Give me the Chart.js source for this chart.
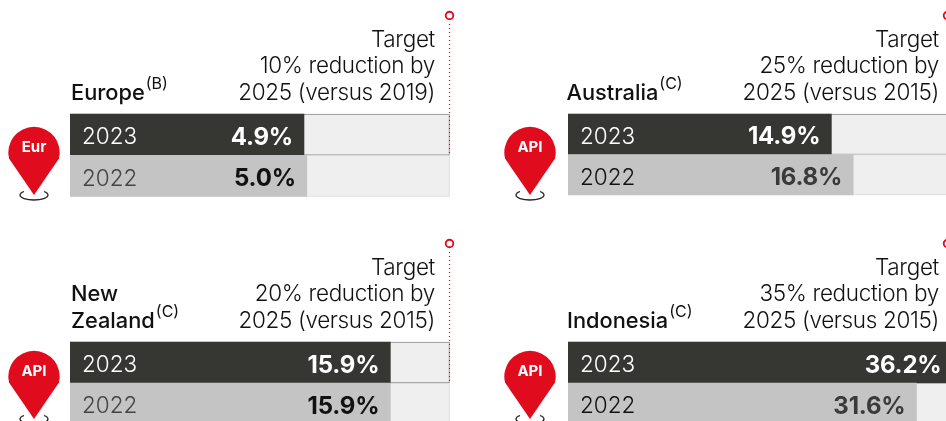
<!DOCTYPE html>
<html><head><meta charset="utf-8">
<script src="https://cdn.jsdelivr.net/npm/chart.js@4"></script>
<style>
html,body{margin:0;padding:0;width:946px;height:421px;overflow:hidden;background:#fff;font-family:Inter,sans-serif;color:#111}
canvas{position:absolute}
.t{position:absolute;font-size:22.5px;font-weight:300;line-height:26.3px;text-align:right;white-space:pre;letter-spacing:-.35px}
.n{position:absolute;font-size:21.8px;font-weight:500;line-height:26.5px;white-space:pre}
.n sup{font-size:16px;font-weight:400;line-height:0;position:relative;top:-2px;vertical-align:super;margin-left:1px}
svg{position:absolute;left:0;top:0}
</style></head><body>
<script>
// ---- data ----
const panelNames   = ['Europe','Australia','New\nZealand','Indonesia'];
const panelNotes   = ['(B)','(C)','(C)','(C)'];
const pinLabels    = ['Eur','API','API','API'];
const years        = ['2023','2022'];
const values2023   = [4.9,14.9,15.9,36.2];
const values2022   = [5.0,16.8,15.9,31.6];
const targetValues = [10,25,20,35];
const targetTexts  = ['Target\n10% reduction by\n2025 (versus 2019)','Target\n25% reduction by\n2025 (versus 2015)','Target\n20% reduction by\n2025 (versus 2015)','Target\n35% reduction by\n2025 (versus 2015)'];
const axisMins     = [-3.3,-8,-6.3,-6.6];

// ---- layout and style ----
const panelLeft = [70,568,70,568];
const panelTop  = [0,0,228,228];
const rowsTop   = [114,114,342,342];
const rowsH     = [82.5,81,82,82];
const textRight = [435,939,435,939];
const nameLeft  = [71,566.5,71,567];
const nameBottom= [105,105,333,333];
const red='#e00b1c', dark='#363632', mid='#c4c4c4', track='#efefef';
const year22Col = ['#444','#111','#444','#111'];
const val22Col  = ['#111','#3a3a3a','#111','#3a3a3a'];
const W=400, areaW=379.5;

function mkDiv(cls,css,html){const d=document.createElement('div');d.className=cls;d.style.cssText=css;d.innerHTML=html;document.body.appendChild(d);return d;}

panelNames.forEach((name,i)=>{
  const c=document.createElement('canvas');
  const H=Math.ceil(rowsTop[i]+rowsH[i]+6-panelTop[i]);
  c.width=W;c.height=H;
  c.style.cssText=`left:${panelLeft[i]}px;top:${panelTop[i]}px;width:${W}px;height:${H}px`;
  document.body.appendChild(c);
  const overlay={id:'overlay',afterDatasetsDraw(ch){
    const g=ch.ctx,a=ch.chartArea,x=ch.scales.x,y=ch.scales.y;
    const tx=Math.floor(x.getPixelForValue(targetValues[i]))+.5;
    g.save();g.textBaseline='middle';
    // year labels, from the category scale
    g.textAlign='left';g.font='300 22.5px Inter';
    ch.data.labels.forEach((lab,k)=>{
      g.fillStyle=k===0?'#fff':year22Col[i];
      g.fillText(lab,a.left+12,y.getPixelForTick(k)+3);
    });
    // value labels
    g.textAlign='right';g.font='700 24px Inter';g.letterSpacing='-0.2px';
    ch.getDatasetMeta(1).data.forEach((el,k)=>{
      const v=ch.data.datasets[1].data[k];
      g.fillStyle=k===0?'#fff':val22Col[i];
      g.fillText(v.toFixed(1)+'%',Math.min(el.x-11,a.right-6),el.y+3);
    });
    g.letterSpacing='0px';
    // target marker
    const lineBottom=y.getPixelForTick(0)+(a.bottom-a.top)/4;
    g.strokeStyle=red;g.lineWidth=1.2;g.setLineDash([1,3]);
    g.beginPath();g.moveTo(tx,a.top-90);g.lineTo(tx,lineBottom);g.stroke();
    g.setLineDash([]);g.lineWidth=1.9;
    g.beginPath();g.arc(tx,a.top-98.5,3.8,0,Math.PI*2);g.stroke();
    g.restore();
  }};
  new Chart(c,{
    type:'bar',
    data:{labels:years,datasets:[
      {data:[targetValues[i],targetValues[i]],base:axisMins[i],order:2,clip:false,
       backgroundColor:track,borderWidth:1,borderSkipped:false,
       borderColor:['#8a8a8a','#d8d8d8']},
      {data:[values2023[i],values2022[i]],base:axisMins[i],order:1,clip:false,
       backgroundColor:[dark,mid],borderWidth:0}
    ]},
    plugins:[overlay],
    options:{
      responsive:false,maintainAspectRatio:false,animation:false,indexAxis:'y',devicePixelRatio:1,
      layout:{autoPadding:false,padding:{left:0,right:W-areaW,top:rowsTop[i]-panelTop[i],bottom:H-(rowsTop[i]-panelTop[i])-rowsH[i]}},
      plugins:{legend:{display:false},tooltip:{enabled:false}},
      datasets:{bar:{grouped:false,categoryPercentage:1,barPercentage:1}},
      scales:{
        x:{display:false,min:axisMins[i],max:targetValues[i],ticks:{display:false},grid:{drawTicks:false}},
        y:{grid:{display:false,drawTicks:false},border:{display:false},ticks:{display:false,padding:0}}
      }
    }
  });
  mkDiv('t',`right:${946-textRight[i]}px;top:${rowsTop[i]-88}px`,targetTexts[i]);
  const nm=name.replace('\n','<br>');
  mkDiv('n',`left:${nameLeft[i]}px;bottom:${421-nameBottom[i]}px`,nm+'<sup>'+panelNotes[i]+'</sup>');
});

// map pins
const svgNS='http://www.w3.org/2000/svg';
const pinX=[34,530,34,530], pinY=[149.5,149.5,373.5,373.5];
const svg=document.createElementNS(svgNS,'svg');
svg.setAttribute('width',946);svg.setAttribute('height',421);
let s='';
pinLabels.forEach((lab,i)=>{
  const x=pinX[i],y=pinY[i];
  s+=`<path d="M${x-10} ${y+42}A14 5 0 1 0 ${x+10} ${y+42}" fill="none" stroke="#222" stroke-width="1.3"/>`;
  s+=`<path d="M${x-25} ${y+9}A25.7 25.7 0 1 1 ${x+25} ${y+9}L${x} ${y+45.5}Z" fill="${red}"/>`;
  s+=`<text x="${x}" y="${y+2.5}" text-anchor="middle" font-family="Inter" font-size="15" font-weight="700" fill="#fff">${lab}</text>`;
});
svg.innerHTML=s;document.body.appendChild(svg);
</script>
</body></html>
